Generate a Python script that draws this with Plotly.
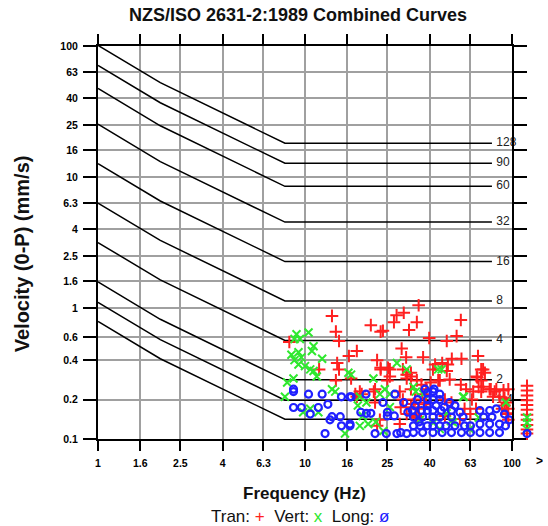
import plotly.graph_objects as go

# ---------------- data ----------------
chart_title = "NZS/ISO 2631-2:1989 Combined Curves"
x_title = "Frequency (Hz)"
y_title = "Velocity (0-P) (mm/s)"

x_ticks = [1, 1.6, 2.5, 4, 6.3, 10, 16, 25, 40, 63, 100]
x_tick_labels = ["1", "1.6", "2.5", "4", "6.3", "10", "16", "25", "40", "63", "100"]
y_ticks = [0.1, 0.2, 0.4, 0.6, 1, 1.6, 2.5, 4, 6.3, 10, 16, 25, 40, 63, 100]
y_tick_labels = ["0.1", "0.2", "0.4", "0.6", "1", "1.6", "2.5", "4", "6.3", "10", "16", "25", "40", "63", "100"]

# base (x1) combined curve, peak velocity mm/s
curve_freq = [1, 2, 8, 80]
base_curve = [0.79, 0.41, 0.1414, 0.1414]
multipliers = [128, 90, 60, 32, 16, 8, 4, 2, 1.4, 1]
curve_labels = ["128", "90", "60", "32", "16", "8", "4", "2", "1.4", ""]
label_freq = 84

over_bin = ">"   # events above 100 Hz

tran_f = [35.4, 13.5, 27.7, 30, 26.9, 20.8, 23.8, 34.7, 31.8, 56.6, 14.1, 14.6, 8.4, 39.8, 48.4, 54,
          29.3, 17.8, 30.8, 22.3, 16.3, 37.2, 46, 51.2, 57, 68.5, 14.3, 14.6, 11.7, 23.2, 25.2, 29.7,
          31, 41.5, 48.4, 72.5, 14.1, 16.7, 31, 34.7, 40.5, 44.8, 56.6, 67.5, 71, 72.5, 18.4, 21.8,
          28.7, 78, 82.5, 87, 92, 89.5, 94.5, 17.8, 21.8, 29.7, 33.4, 38, 47.4, 51, 59, 64, 31, 34.7,
          28.7, 47.4, 56, 23.2, 23.2, 25.7, 25.7, 25, 32.5, 32.5, 17.5, 18.8, 21.5, 32.5, 34, 29, 32.5,
          23, 22.3, 42.5, 49, 71, 44, 50, 68, 36.5, 38.5, 37, 38.5, 60, 65, 69, 71, 35.5, 34.3, 63, 67,
          74, 79, 84, 91, 96, 81, 92, 94, 96, 94, 96]
tran_v = [1.05, 0.87, 0.88, 0.92, 0.78, 0.74, 0.67, 0.78, 0.68, 0.81, 0.66, 0.56, 0.55, 0.59, 0.56, 0.61,
          0.49, 0.47, 0.42, 0.40, 0.43, 0.42, 0.38, 0.41, 0.41, 0.43, 0.38, 0.34, 0.34, 0.34, 0.35, 0.34,
          0.31, 0.34, 0.33, 0.34, 0.28, 0.29, 0.29, 0.28, 0.27, 0.28, 0.26, 0.30, 0.28, 0.25, 0.23, 0.24,
          0.23, 0.24, 0.23, 0.21, 0.18, 0.17, 0.157, 0.21, 0.19, 0.20, 0.185, 0.184, 0.20, 0.19, 0.17, 0.20, 0.155, 0.145,
          0.13, 0.15, 0.142, 0.66, 0.35, 0.34, 0.30, 0.28, 0.32, 0.30, 0.22, 0.22, 0.23, 0.24, 0.20, 0.175, 0.175,
          0.14, 0.126, 0.37, 0.37, 0.34, 0.28, 0.285, 0.295, 0.26, 0.24, 0.22, 0.19, 0.24, 0.23, 0.25, 0.23, 0.17, 0.15, 0.155, 0.17,
          0.32, 0.24, 0.24, 0.235, 0.24, 0.21, 0.205, 0.19, 0.17, 0.155, 0.14]
tran_over_v = [0.255, 0.235, 0.215, 0.198, 0.182, 0.167, 0.153, 0.14, 0.128, 0.118, 0.11]

vert_f = [9.1, 10.4, 8.9, 9.45, 11, 10.8, 8.6, 9.3, 9.6, 8.9, 9.3, 10, 10.6, 11, 11.4, 12.1, 8.2, 8.8,
          13.5, 8.0, 10.6, 9.8, 11.6, 16.2, 14, 21.4, 27.8, 31, 45.7, 33.4, 37.3, 25.7, 23, 18.4, 58,
          93.5, 48.3, 18.4, 15.6, 23.9, 35.9, 41.6, 44.8, 52, 62.5, 19.8, 25.7, 16.7, 24.3, 18, 19,
          20.2, 22, 44, 58.5, 34.3, 50.7, 69]
vert_v = [0.63, 0.65, 0.58, 0.58, 0.51, 0.47, 0.44, 0.46, 0.42, 0.40, 0.37, 0.36, 0.34, 0.33, 0.30, 0.41, 0.27, 0.29,
          0.24, 0.21, 0.17, 0.16, 0.16, 0.32, 0.23, 0.29, 0.38, 0.34, 0.34, 0.25, 0.22, 0.22, 0.22, 0.21, 0.21,
          0.19, 0.157, 0.126, 0.11, 0.115, 0.14, 0.133, 0.119, 0.134, 0.119, 0.19, 0.175, 0.31, 0.24, 0.18, 0.15,
          0.13, 0.135, 0.34, 0.21, 0.23, 0.137, 0.146]
vert_over_v = [0.146, 0.133, 0.119]

long_f = [8.8, 10.4, 12.1, 8.8, 9.6, 15, 16.5, 19.7, 27.2, 10.6, 11.6, 12.9, 13.5, 14.8, 13.2, 19.8, 20.8,
          25, 25, 27, 12.5, 15, 16.5, 21.8, 24.7, 27.8, 31, 39, 41.5, 44.8, 39, 41.5, 44.8, 34, 39, 43, 47,
          33, 36.5, 39, 41.5, 45.5, 51, 56, 33.4, 37, 41.5, 44.8, 51, 58, 33.4, 36, 39, 41.5, 44.8, 48, 53,
          59, 63, 33.4, 37, 41.5, 46, 51, 57, 63, 70, 78, 87, 70, 78, 84, 80, 73, 70, 78, 87, 93,
          16.7, 23.8, 18.6, 31.4, 16.5, 29, 35.5, 35, 30, 92, 97, 8.8, 38, 42, 50, 53]
long_v = [0.24, 0.22, 0.22, 0.174, 0.174, 0.21, 0.21, 0.22, 0.22, 0.155, 0.174, 0.184, 0.148, 0.148, 0.14, 0.157, 0.157,
          0.16, 0.15, 0.15, 0.11, 0.126, 0.126, 0.11, 0.11, 0.11, 0.11, 0.225, 0.23, 0.22, 0.20, 0.20, 0.20, 0.18, 0.18, 0.18, 0.175,
          0.165, 0.165, 0.165, 0.165, 0.165, 0.165, 0.16, 0.147, 0.147, 0.147, 0.147, 0.147, 0.147, 0.126, 0.126, 0.126, 0.126, 0.126, 0.126, 0.126,
          0.126, 0.126, 0.112, 0.112, 0.112, 0.112, 0.112, 0.112, 0.112, 0.112, 0.112, 0.112, 0.165, 0.165, 0.17, 0.147, 0.147, 0.13, 0.13, 0.13, 0.126,
          0.21, 0.19, 0.16, 0.16, 0.13, 0.112, 0.135, 0.20, 0.19, 0.155, 0.14, 0.23, 0.24, 0.24, 0.19, 0.18]
long_over_v = [0.11]

RED, GREEN, BLUE = "#ff2020", "#2ee82e", "#2020ff"
FONT = "Liberation Sans"

# ---------------- figure ----------------
fig = go.Figure()

for m in multipliers:
    fig.add_trace(go.Scatter(x=curve_freq, y=[b * m for b in base_curve], mode="lines",
                             line=dict(color="black", width=1.5), hoverinfo="skip", showlegend=False))

lab_idx = [i for i, t in enumerate(curve_labels) if t]
fig.add_trace(go.Scatter(
    x=[label_freq] * len(lab_idx),
    y=[base_curve[-1] * multipliers[i] for i in lab_idx],
    text=[curve_labels[i] for i in lab_idx],
    mode="text", textposition="middle right",
    textfont=dict(family=FONT, size=12, color="#222222"),
    showlegend=False, cliponaxis=False, hoverinfo="skip"))

tran_marker = dict(symbol="cross-thin", size=9, line=dict(color=RED, width=2))
vert_marker = dict(symbol="x-thin", size=8, line=dict(color=GREEN, width=2))
long_marker = dict(symbol="circle-open", size=7, color=BLUE, line=dict(color=BLUE, width=2.2))

fig.add_trace(go.Scatter(x=tran_f, y=tran_v, mode="markers", cliponaxis=False, showlegend=False, marker=tran_marker))
fig.add_trace(go.Scatter(x=vert_f, y=vert_v, mode="markers", cliponaxis=False, showlegend=False, marker=vert_marker))
fig.add_trace(go.Scatter(x=long_f, y=long_v, mode="markers", cliponaxis=False, showlegend=False, marker=long_marker))

# ">" bin (above 100 Hz) drawn in a narrow side subplot to the right of the frame
fig.add_trace(go.Scatter(x=[over_bin] * len(tran_over_v), y=tran_over_v, xaxis="x2", yaxis="y2",
                         mode="markers", cliponaxis=False, showlegend=False, marker=tran_marker))
fig.add_trace(go.Scatter(x=[over_bin] * len(vert_over_v), y=vert_over_v, xaxis="x2", yaxis="y2",
                         mode="markers", cliponaxis=False, showlegend=False, marker=vert_marker))
fig.add_trace(go.Scatter(x=[over_bin] * len(long_over_v), y=long_over_v, xaxis="x2", yaxis="y2",
                         mode="markers", cliponaxis=False, showlegend=False, marker=long_marker))

tickfont = dict(family=FONT, size=10.5, color="black", weight="bold")
main_frac = 414 / 450
fig.update_layout(
    xaxis=dict(type="log", range=[0, 2], domain=[0, main_frac], anchor="y", automargin=False,
               tickvals=x_ticks, ticktext=x_tick_labels,
               showgrid=True, gridcolor="#a0a0a0", gridwidth=2,
               showline=True, linecolor="black", linewidth=2, mirror="ticks",
               ticks="outside", ticklen=10, tickwidth=2, tickcolor="black",
               tickfont=tickfont, ticklabelstandoff=3, zeroline=False),
    yaxis=dict(type="log", range=[-1, 2], domain=[0, 1], anchor="x", automargin=False,
               tickvals=y_ticks, ticktext=y_tick_labels,
               showgrid=True, gridcolor="#a0a0a0", gridwidth=2,
               showline=True, linecolor="black", linewidth=2, mirror="ticks",
               ticks="outside", ticklen=13, tickwidth=2, tickcolor="black",
               tickfont=tickfont, ticklabelstandoff=3, zeroline=False),
    xaxis2=dict(type="category", categoryarray=[over_bin], range=[-0.5, 0.7], automargin=False,
                domain=[main_frac, 1], anchor="y2", visible=False),
    yaxis2=dict(type="log", range=[-1, 2], domain=[0, 1], anchor="x2", visible=False, automargin=False),
)

annotations = [
    dict(text="<b>" + chart_title + "</b>", xref="paper", yref="paper", x=0.444, y=1.0, yshift=31,
         showarrow=False, font=dict(family=FONT, size=18, color="#111111"),
         xanchor="center", yanchor="middle"),
    dict(text="<b>" + x_title + "</b>", xref="paper", yref="paper", x=0.458, y=0, yshift=-54,
         showarrow=False, font=dict(family=FONT, size=17, color="#111111"),
         xanchor="center", yanchor="middle"),
    dict(text="<b>" + y_title + "</b>", xref="paper", yref="paper", x=0, xshift=-76, y=0.47,
         showarrow=False, textangle=-90, font=dict(family=FONT, size=20, color="#111111"),
         xanchor="center", yanchor="middle"),
    dict(text="Tran: <span style='color:%s'>+</span>  Vert: <span style='color:%s'>x</span>  Long: <span style='color:%s'>ø</span>" % (RED, GREEN, BLUE),
         xref="paper", yref="paper", x=0.449, y=0, yshift=-77,
         showarrow=False, font=dict(family=FONT, size=17, color="#111111"),
         xanchor="center", yanchor="middle"),
    dict(text="<b>" + over_bin + "</b>", xref="paper", yref="paper", x=0.982, y=0, yshift=-22,
         showarrow=False, font=dict(family=FONT, size=12, color="black"),
         xanchor="center", yanchor="middle"),
]

fig.update_layout(width=548, height=526, margin=dict(l=98, r=0, t=46, b=87),
                  plot_bgcolor="white", paper_bgcolor="white", annotations=annotations,
                  showlegend=False)

fig.write_html("out.html")
